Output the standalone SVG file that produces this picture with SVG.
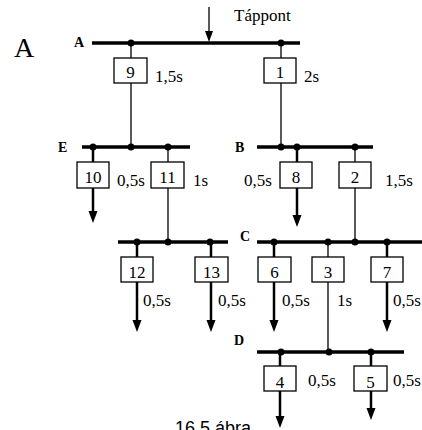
<svg xmlns="http://www.w3.org/2000/svg" width="422" height="430" viewBox="0 0 422 430">
  <style>
    .bus { stroke: #000; stroke-width: 3.5; }
    .dot { fill: #000; }
    .box { fill: #fff; stroke: #000; stroke-width: 1.3; }
    text { font-family: "Liberation Serif", "Times New Roman", serif; fill: #000; }
    .num { font-size: 17px; text-anchor: middle; }
    .t { font-size: 17px; }
    .lbl { font-size: 14px; font-weight: bold; }
    .wire { stroke: #000; stroke-width: 1.3; fill: none; }
    .feed { stroke: #000; stroke-width: 2.5; fill: none; }
  </style>
  <defs>
    <marker id="head" markerUnits="userSpaceOnUse" markerWidth="13" markerHeight="10" refX="1" refY="4.5" orient="auto" viewBox="0 0 13 9">
      <path d="M0,0 L12,4.5 L0,9 Z" fill="#000"/>
    </marker>
  </defs>
  <g id="page-letter">
    <text x="14" y="57" font-size="28">A</text>
  </g>
  <g id="supply">
    <text class="t" x="234" y="21">Táppont</text>
  </g>
  <!-- connectors: thin ties between buses, thick load feeders with arrows -->
  <g id="connectors">
    <path class="wire" d="M209,7 V31"/>
    <path d="M205,31 L213,31 L209,42 Z" fill="#000"/>
    <path class="wire" d="M131,43 V147"/>
    <path class="wire" d="M281,43 V147"/>
    <path class="wire" d="M168,147 V242"/>
    <path class="wire" d="M355,147 V242"/>
    <path class="wire" d="M328,242 V352"/>
    <path class="feed" d="M93,147 V212" marker-end="url(#head)"/>
    <path class="feed" d="M297,147 V216" marker-end="url(#head)"/>
    <path class="feed" d="M137,242 V321" marker-end="url(#head)"/>
    <path class="feed" d="M211,242 V321" marker-end="url(#head)"/>
    <path class="feed" d="M274,242 V321" marker-end="url(#head)"/>
    <path class="feed" d="M387,242 V321" marker-end="url(#head)"/>
    <path class="feed" d="M280,352 V417" marker-end="url(#head)"/>
    <path class="feed" d="M371,352 V409" marker-end="url(#head)"/>
  </g>
  <g id="bus-A">
    <line class="bus" x1="92" y1="43" x2="300" y2="43"/>
    <circle class="dot" cx="131" cy="43" r="3.5"/>
    <circle class="dot" cx="281" cy="43" r="3.5"/>
    <text class="lbl" x="74" y="47">A</text>
  </g>
  <g id="bus-E">
    <line class="bus" x1="82" y1="147" x2="190" y2="147"/>
    <circle class="dot" cx="93" cy="147" r="3.5"/>
    <circle class="dot" cx="131" cy="147" r="3.5"/>
    <circle class="dot" cx="168" cy="147" r="3.5"/>
    <text class="lbl" x="58" y="152">E</text>
  </g>
  <g id="bus-B">
    <line class="bus" x1="257" y1="147" x2="373" y2="147"/>
    <circle class="dot" cx="281" cy="147" r="3.5"/>
    <circle class="dot" cx="297" cy="147" r="3.5"/>
    <circle class="dot" cx="355" cy="147" r="3.5"/>
    <text class="lbl" x="235" y="152">B</text>
  </g>
  <g id="bus-EL">
    <line class="bus" x1="118" y1="242" x2="228" y2="242"/>
    <circle class="dot" cx="137" cy="242" r="3.5"/>
    <circle class="dot" cx="168" cy="242" r="3.5"/>
    <circle class="dot" cx="210" cy="242" r="3.5"/>
  </g>
  <g id="bus-C">
    <line class="bus" x1="257" y1="242" x2="422" y2="242"/>
    <circle class="dot" cx="274" cy="242" r="3.5"/>
    <circle class="dot" cx="328" cy="242" r="3.5"/>
    <circle class="dot" cx="355" cy="242" r="3.5"/>
    <circle class="dot" cx="387" cy="242" r="3.5"/>
    <text class="lbl" x="240" y="241">C</text>
  </g>
  <g id="bus-D">
    <line class="bus" x1="257" y1="352" x2="404" y2="352"/>
    <circle class="dot" cx="281" cy="352" r="3.5"/>
    <circle class="dot" cx="329" cy="352" r="3.5"/>
    <circle class="dot" cx="371" cy="352" r="3.5"/>
    <text class="lbl" x="234" y="345">D</text>
  </g>
  <g id="relay-9">
    <rect class="box" x="114" y="58" width="33" height="25"/>
    <text class="num" x="130.5" y="78">9</text>
    <text class="t" x="155" y="82">1,5s</text>
  </g>
  <g id="relay-1">
    <rect class="box" x="264" y="58" width="32" height="25"/>
    <text class="num" x="280" y="78">1</text>
    <text class="t" x="304" y="82">2s</text>
  </g>
  <g id="relay-10">
    <rect class="box" x="77" y="162" width="32" height="26"/>
    <text class="num" x="93" y="183">10</text>
    <text class="t" x="117" y="186">0,5s</text>
  </g>
  <g id="relay-11">
    <rect class="box" x="151" y="162" width="33" height="26"/>
    <text class="num" x="167.5" y="183">11</text>
    <text class="t" x="193" y="186">1s</text>
  </g>
  <g id="relay-8">
    <rect class="box" x="280" y="162" width="32" height="26"/>
    <text class="num" x="296" y="183">8</text>
    <text class="t" x="244" y="186">0,5s</text>
  </g>
  <g id="relay-2">
    <rect class="box" x="339" y="162" width="32" height="26"/>
    <text class="num" x="355" y="183">2</text>
    <text class="t" x="385" y="186">1,5s</text>
  </g>
  <g id="relay-12">
    <rect class="box" x="121" y="257" width="32" height="25"/>
    <text class="num" x="137" y="278">12</text>
    <text class="t" x="143" y="306">0,5s</text>
  </g>
  <g id="relay-13">
    <rect class="box" x="195" y="257" width="33" height="25"/>
    <text class="num" x="211.5" y="278">13</text>
    <text class="t" x="218" y="306">0,5s</text>
  </g>
  <g id="relay-6">
    <rect class="box" x="258" y="257" width="33" height="25"/>
    <text class="num" x="274.5" y="278">6</text>
    <text class="t" x="282" y="306">0,5s</text>
  </g>
  <g id="relay-3">
    <rect class="box" x="312" y="257" width="32" height="25"/>
    <text class="num" x="328" y="278">3</text>
    <text class="t" x="337" y="306">1s</text>
  </g>
  <g id="relay-7">
    <rect class="box" x="371" y="257" width="32" height="25"/>
    <text class="num" x="387" y="278">7</text>
    <text class="t" x="393" y="306">0,5s</text>
  </g>
  <g id="relay-4">
    <rect class="box" x="264" y="366" width="32" height="25"/>
    <text class="num" x="280" y="388">4</text>
    <text class="t" x="308" y="386">0,5s</text>
  </g>
  <g id="relay-5">
    <rect class="box" x="354" y="366" width="33" height="25"/>
    <text class="num" x="370.5" y="388">5</text>
    <text class="t" x="393" y="386">0,5s</text>
  </g>
  <g id="caption">
    <text x="175" y="434" style="font-family: 'Liberation Sans', Arial, sans-serif; font-size: 18px;">16.5 ábra</text>
  </g>
</svg>
